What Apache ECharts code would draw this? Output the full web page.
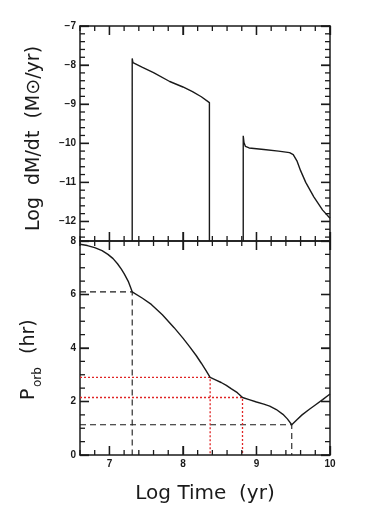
<!DOCTYPE html>
<html lang="en">
<head>
  <meta charset="UTF-8">
  <title>Mass transfer rate and orbital period</title>
  <script src="https://cdn.jsdelivr.net/npm/echarts@6/dist/echarts.min.js"></script>
  <style>
    html, body { margin: 0; padding: 0; background: #fff; }
    #chart { width: 366px; height: 514px; }
  </style>
</head>
<body>
<div id="chart"></div>
<script>
  // --- data ---
  // upper panel: log dM/dt, two mass-transfer episodes
  const tFirst = [7.31, 7.31, 7.32, 7.45, 7.6, 7.82, 8.0, 8.13, 8.25, 8.36, 8.36];
  const mdotFirst = [-12.5, -7.83, -7.94, -8.06, -8.19, -8.42, -8.56, -8.68, -8.81, -8.96, -12.5];
  const tSecond = [8.82, 8.82, 8.83, 8.85, 8.9, 9.1, 9.3, 9.45, 9.5, 9.55, 9.6, 9.67, 9.78, 9.9, 10.0];
  const mdotSecond = [-12.5, -9.81, -9.98, -10.08, -10.12, -10.16, -10.2, -10.24, -10.29, -10.45, -10.7, -11.0, -11.37, -11.71, -11.92];

  // lower panel: orbital period
  const tOrb = [6.6, 6.7, 6.8, 6.9, 6.98, 7.05, 7.11, 7.16, 7.2, 7.26, 7.31, 7.45, 7.57, 7.72, 7.88, 8.0, 8.09,
    8.18, 8.25, 8.31, 8.37, 8.45, 8.52, 8.59, 8.66, 8.74, 8.81, 8.9, 9.0, 9.1, 9.18, 9.27, 9.36, 9.42, 9.48,
    9.55, 9.62, 9.72, 9.8, 9.9, 10.0];
  const pOrb = [7.88, 7.83, 7.75, 7.64, 7.5, 7.34, 7.15, 6.96, 6.78, 6.47, 6.1, 5.86, 5.63, 5.24, 4.76, 4.37, 4.05,
    3.72, 3.43, 3.17, 2.9, 2.8, 2.71, 2.6, 2.47, 2.33, 2.15, 2.07, 1.98, 1.9, 1.83, 1.7, 1.52, 1.35, 1.13,
    1.32, 1.5, 1.71, 1.87, 2.07, 2.28];

  // guide lines (time, period)
  const blackT = [7.31, 9.48];
  const blackP = [6.1, 1.13];
  const redT = [8.37, 8.81];
  const redP = [2.9, 2.15];

  // ticks
  const xMajor = [7, 8, 9, 10];
  const xMinor = [6.6, 6.8, 7.2, 7.4, 7.6, 7.8, 8.2, 8.4, 8.6, 8.8, 9.2, 9.4, 9.6, 9.8];
  const yTopMajor = [-12, -11, -10, -9, -8, -7];
  const yTopMinor = [-12.4, -12.2, -11.8, -11.6, -11.4, -11.2, -10.8, -10.6, -10.4, -10.2,
    -9.8, -9.6, -9.4, -9.2, -8.8, -8.6, -8.4, -8.2, -7.8, -7.6, -7.4, -7.2];
  const yBotMajor = [0, 2, 4, 6, 8];
  const yBotMinor = [0.5, 1, 1.5, 2.5, 3, 3.5, 4.5, 5, 5.5, 6.5, 7, 7.5];

  const ink = '#1a1a1a';
  const font = 'DejaVu Sans';
  const xRange = [6.6, 10];
  const yRanges = [[-12.5, -7], [0, 8]];

  function zip(a, b) {
    return a.map((v, i) => [v, b[i]]);
  }

  function xAx(grid, pos, labels) {
    const ax = {
      type: 'value', gridIndex: grid, position: pos, min: xRange[0], max: xRange[1],
      axisLine: { show: true, onZero: false, lineStyle: { color: ink, width: 1.5 } },
      axisTick: { show: true, inside: true, length: 9, customValues: xMajor, lineStyle: { color: ink, width: 1.3 } },
      axisLabel: { show: labels, customValues: xMajor, margin: 4, color: ink, fontWeight: 'bold', fontSize: 10 },
      splitLine: { show: false }
    };
    if (labels) {
      ax.name = 'Log Time  (yr)';
      ax.nameLocation = 'middle';
      ax.nameGap = 29;
      ax.nameTextStyle = { fontFamily: font, fontSize: 20, color: ink };
    }
    return ax;
  }

  function yAx(grid, pos, ticks, labels) {
    return {
      type: 'value', gridIndex: grid, position: pos, min: yRanges[grid][0], max: yRanges[grid][1],
      axisLine: { show: true, onZero: false, lineStyle: { color: ink, width: 1.5 } },
      axisTick: { show: true, inside: true, length: 9, customValues: ticks, lineStyle: { color: ink, width: 1.3 } },
      axisLabel: {
        show: labels, customValues: ticks, margin: 4, color: ink, fontWeight: 'bold', fontSize: 10,
        formatter: v => String(v).replace('-', '\u2212')
      },
      splitLine: { show: false }
    };
  }

  function guide(points, color, dash, width) {
    return {
      type: 'line', xAxisIndex: 2, yAxisIndex: 2, data: points, symbol: 'none',
      lineStyle: { color: color, width: width, type: dash }, z: 1, silent: true
    };
  }

  function title(text, size, x, y) {
    return {
      type: 'text', x: x, y: y,
      style: { text: text, fontFamily: font, fontSize: size, fill: ink, align: 'left', verticalAlign: 'middle' }
    };
  }

  const chart = echarts.init(document.getElementById('chart'));

  const series = [
    {
      type: 'line', xAxisIndex: 0, yAxisIndex: 0, data: zip(tFirst, mdotFirst),
      symbol: 'none', lineStyle: { color: ink, width: 1.4 }, z: 3
    },
    {
      type: 'line', xAxisIndex: 0, yAxisIndex: 0, data: zip(tSecond, mdotSecond),
      symbol: 'none', lineStyle: { color: ink, width: 1.4 }, z: 3
    },
    {
      type: 'line', xAxisIndex: 2, yAxisIndex: 2, data: zip(tOrb, pOrb),
      symbol: 'none', lineStyle: { color: ink, width: 1.4 }, z: 3
    }
  ];
  blackT.forEach((t, i) => {
    series.push(guide([[6.6, blackP[i]], [t, blackP[i]], [t, 0]], ink, [6, 4], 1.1));
  });
  redT.forEach((t, i) => {
    series.push(guide([[6.6, redP[i]], [t, redP[i]], [t, 0]], '#e02424', [2, 2], 1.3));
  });

  chart.setOption({
    animation: false,
    backgroundColor: '#fff',
    grid: [
      { left: 80, top: 26, width: 250, height: 215 },
      { left: 80, top: 241, width: 250, height: 214 }
    ],
    xAxis: [
      xAx(0, 'bottom', false),
      xAx(0, 'top', false),
      xAx(1, 'bottom', true),
      xAx(1, 'top', false)
    ],
    yAxis: [
      yAx(0, 'left', yTopMajor, true),
      yAx(0, 'right', yTopMajor, false),
      yAx(1, 'left', yBotMajor, true),
      yAx(1, 'right', yBotMajor, false)
    ],
    series: series
  });

  // inward tick marks on all four sides, placed with the chart's own scales
  const tickLines = [];
  function addTicks(grid, dir, values, len) {
    const yr = yRanges[grid];
    values.forEach(v => {
      const st = { stroke: ink, lineWidth: 1.3 };
      if (dir === 'x') {
        const lo = chart.convertToPixel({ gridIndex: grid }, [v, yr[0]]);
        const hi = chart.convertToPixel({ gridIndex: grid }, [v, yr[1]]);
        tickLines.push({ type: 'line', z: 50, shape: { x1: lo[0], y1: lo[1], x2: lo[0], y2: lo[1] - len }, style: st });
        tickLines.push({ type: 'line', z: 50, shape: { x1: hi[0], y1: hi[1], x2: hi[0], y2: hi[1] + len }, style: st });
      } else {
        const l = chart.convertToPixel({ gridIndex: grid }, [xRange[0], v]);
        const r = chart.convertToPixel({ gridIndex: grid }, [xRange[1], v]);
        tickLines.push({ type: 'line', z: 50, shape: { x1: l[0], y1: l[1], x2: l[0] + len, y2: l[1] }, style: st });
        tickLines.push({ type: 'line', z: 50, shape: { x1: r[0], y1: r[1], x2: r[0] - len, y2: r[1] }, style: st });
      }
    });
  }
  addTicks(0, 'x', xMajor, 9);
  addTicks(0, 'x', xMinor, 5);
  addTicks(0, 'y', yTopMajor, 9);
  addTicks(0, 'y', yTopMinor, 5);
  addTicks(1, 'x', xMajor, 9);
  addTicks(1, 'x', xMinor, 5);
  addTicks(1, 'y', yBotMajor, 9);
  addTicks(1, 'y', yBotMinor, 5);

  chart.setOption({
    // rotated y-axis titles (group rotated 90deg, text reads bottom to top)
    graphic: [
      {
        type: 'group', x: 34, y: 140, rotation: Math.PI / 2,
        children: [title('Log  dM/dt  (M\u2299/yr)', 19, -91, 0)]
      },
      {
        type: 'group', x: 29, y: 359, rotation: Math.PI / 2,
        children: [
          title('P', 19, -41, 0),
          title('orb', 12, -28, 9),
          title('(hr)', 19, 5, 0)
        ]
      },
      { type: 'group', children: tickLines }
    ]
  });
</script>
</body>
</html>
